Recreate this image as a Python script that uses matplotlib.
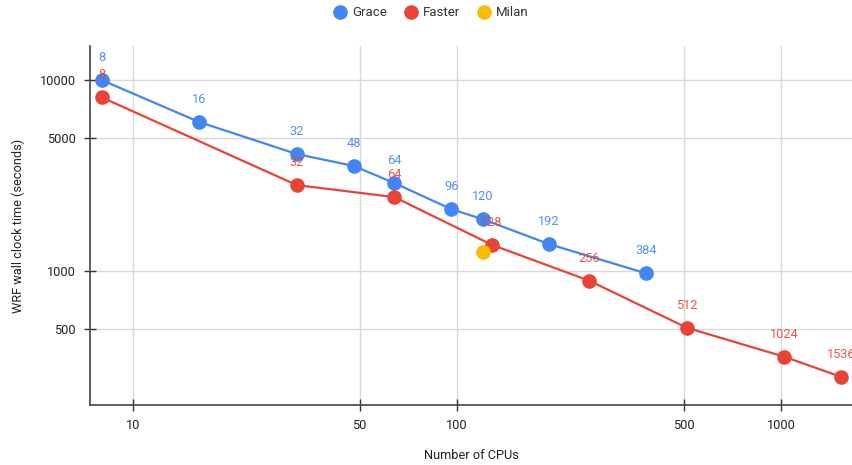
import matplotlib
matplotlib.use("Agg")
import matplotlib.pyplot as plt
from matplotlib.lines import Line2D
from matplotlib.ticker import FixedLocator, FixedFormatter, NullLocator

plt.rcParams["font.family"] = ["Roboto", "DejaVu Sans"]

# data
grace_cpus = [8, 16, 32, 48, 64, 96, 120, 192, 384]
grace_time = [10000, 6030, 4100, 3550, 2890, 2110, 1870, 1385, 972]

faster_cpus = [8, 32, 64, 128, 256, 512, 1024, 1536]
faster_time = [8120, 2820, 2440, 1373, 890, 505, 356, 279]

milan_cpus = [120]
milan_time = [1253]

x_ticks = [10, 50, 100, 500, 1000]
y_ticks = [500, 1000, 5000, 10000]

BLUE = "#4285F4"
RED = "#EA4335"
YELLOW = "#FBBC04"
FS = 9.2

fig = plt.figure(figsize=(8.52, 4.65), dpi=100)
ax = fig.add_axes([90 / 852, 1 - 405 / 465, 1 - 90 / 852, (405 - 46) / 465])

ax.set_xscale("log")
ax.set_yscale("log")
ax.set_xlim(7.36, 1656)
ax.set_ylim(199, 15080)

ax.plot(grace_cpus, grace_time, color=BLUE, lw=1.6, marker="o", ms=9.5,
        zorder=3)
ax.plot(faster_cpus, faster_time, color=RED, lw=1.6, marker="o", ms=9.5,
        zorder=3)
ax.plot(milan_cpus, milan_time, color=YELLOW, lw=0, marker="o", ms=9.5,
        zorder=3)

for cpus, times, col in [(grace_cpus, grace_time, BLUE),
                         (faster_cpus, faster_time, RED)]:
    for c, t in zip(cpus, times):
        ax.annotate(str(c), (c, t), xytext=(0, 11.5), textcoords="offset points",
                    ha="center", va="bottom", color=col, fontsize=FS,
                    alpha=0.9, zorder=4, annotation_clip=False)

ax.xaxis.set_major_locator(FixedLocator(x_ticks))
ax.xaxis.set_major_formatter(FixedFormatter([str(v) for v in x_ticks]))
ax.xaxis.set_minor_locator(NullLocator())
ax.yaxis.set_major_locator(FixedLocator(y_ticks))
ax.yaxis.set_major_formatter(FixedFormatter([str(v) for v in y_ticks]))
ax.yaxis.set_minor_locator(NullLocator())

ax.grid(True, color="#d9d9d9", lw=1)
ax.set_axisbelow(True)
for s in ["top", "right"]:
    ax.spines[s].set_visible(False)
for s in ["left", "bottom"]:
    ax.spines[s].set_color("#444444")
    ax.spines[s].set_linewidth(1.2)
ax.tick_params(direction="inout", length=8, width=1, color="#333333",
               labelsize=FS, labelcolor="#222222", pad=6)

ax.set_xlabel("Number of CPUs", fontsize=FS, color="#222222", labelpad=12)
ax.set_ylabel("WRF wall clock time (seconds)", fontsize=FS, color="#222222",
              labelpad=11)

handles = [Line2D([], [], lw=0, marker="o", ms=9.5, color=c)
           for c in (BLUE, RED, YELLOW)]
fig.legend(handles, ["Grace", "Faster", "Milan"], loc="center",
           bbox_to_anchor=(0.5 + 5 / 852, 1 - 13 / 465), ncol=3, frameon=False,
           fontsize=9.5, handlelength=1.0, handletextpad=0.4,
           columnspacing=1.3, labelcolor="#333333")

fig.savefig("out.png", dpi=100)
